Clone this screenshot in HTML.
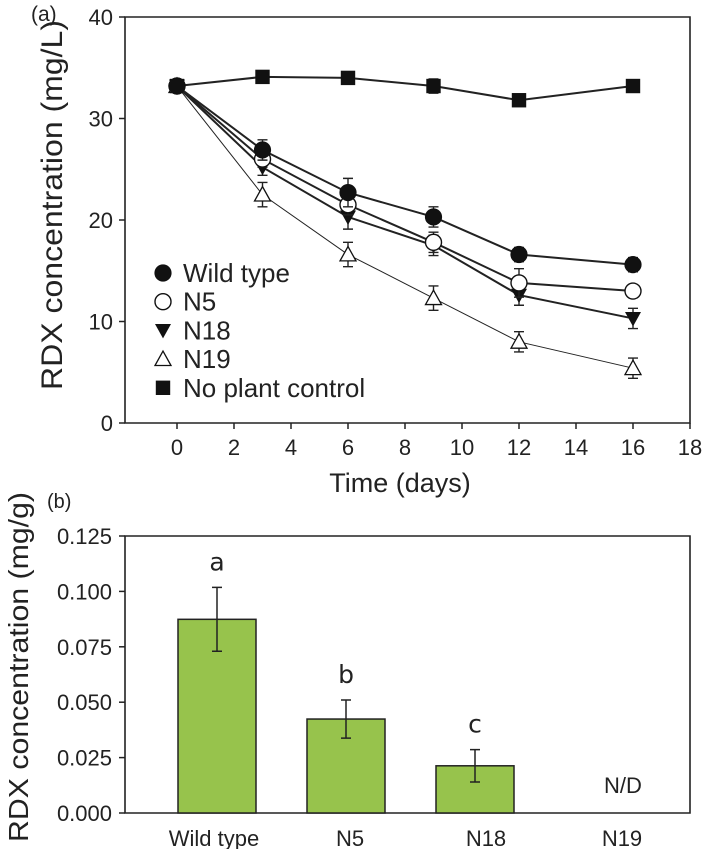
<!DOCTYPE html>
<html><head><meta charset="utf-8"><style>
html,body{margin:0;padding:0;background:#fff;}
svg{display:block;font-family:"Liberation Sans",Arial,sans-serif;}
</style></head><body>
<svg id="chart" width="709" height="849" viewBox="0 0 709 849" xmlns="http://www.w3.org/2000/svg">
<g id="pa"></g>
<g id="pb"></g>
</svg>
<script>
// ---- Panel (a) data ----
const days = [0, 3, 6, 9, 12, 16];
const wildType = [33.2, 26.9, 22.7, 20.3, 16.6, 15.6];
const wildTypeErr = [0.6, 1.0, 1.4, 1.0, 0.7, 0.7];
const n5 = [33.2, 26.0, 21.5, 17.8, 13.8, 13.0];
const n5Err = [0.5, 0.8, 1.0, 1.0, 1.4, 0.6];
const n18 = [33.2, 25.2, 20.3, 17.5, 12.6, 10.3];
const n18Err = [0.5, 0.8, 1.2, 1.0, 1.0, 1.0];
const n19 = [33.2, 22.5, 16.6, 12.3, 8.0, 5.4];
const n19Err = [0.5, 1.2, 1.2, 1.2, 1.0, 1.0];
const control = [33.2, 34.1, 34.0, 33.2, 31.8, 33.2];
const controlErr = [0.5, 0.3, 0.3, 0.7, 0.3, 0.3];
const xTicksA = [0, 2, 4, 6, 8, 10, 12, 14, 16, 18];
const yTicksA = [0, 10, 20, 30, 40];
const legendLabels = ["Wild type", "N5", "N18", "N19", "No plant control"];
// ---- Panel (b) data ----
const lines = ["Wild type", "N5", "N18", "N19"];
const barValues = [0.0874, 0.0424, 0.0213, null];
const barErr = [0.0144, 0.0086, 0.0073, null];
const barLetters = ["a", "b", "c", "N/D"];
const yTicksB = [0, 0.025, 0.05, 0.075, 0.1, 0.125];

const NS = "http://www.w3.org/2000/svg";
function mk(parent, tag, attrs, text){
  const e = document.createElementNS(NS, tag);
  for (const k in attrs) e.setAttribute(k, attrs[k]);
  if (text !== undefined) e.textContent = text;
  parent.appendChild(e);
  return e;
}

// ---- Panel A ----
const pa = document.getElementById('pa');
const AL=125, AR=690, AT=17, AB=423;
const xA = d => 177 + (d) * (690-177)/18;
const yA = v => AB - v * (AB-AT)/40;

let e;
e = mk(pa,'path',{d:`M${AL},${AT}H${AR}V${AB}H${AL}Z`,fill:'none',stroke:'#222','stroke-width':1.6});


yTicksA.forEach(t=>{
  e = mk(pa,'line',{x1:AL-6,x2:AL,y1:yA(t),y2:yA(t),stroke:'#222','stroke-width':1.5});
  
  
  e = mk(pa,'text',{x:AL-12,y:yA(t)+8,'text-anchor':'end','font-size':22,fill:'#222'},String(t));
  
  
});
xTicksA.forEach(t=>{
  e = mk(pa,'line',{x1:xA(t),x2:xA(t),y1:AB,y2:AB+6,stroke:'#222','stroke-width':1.5});
  
  
  e = mk(pa,'text',{x:xA(t),y:AB+32,'text-anchor':'middle','font-size':22,fill:'#222'},String(t));
  
  
});
e = mk(pa,'text',{x:400,y:492,'text-anchor':'middle','font-size':27,fill:'#222'},'Time (days)');


e = mk(pa,'text',{x:0,y:0,transform:'translate(62,205) rotate(-90)','text-anchor':'middle','font-size':30,fill:'#222',textLength:370,lengthAdjust:'spacingAndGlyphs'},'RDX concentration (mg/L)');


e = mk(pa,'text',{x:31,y:21,'font-size':21,fill:'#222'},'(a)');



function marker(g, type, cx, cy, s){
  let m;
  if (type==='circle') m = mk(g,'circle',{cx,cy,r:s,fill:'#111',stroke:'#111','stroke-width':1.2});
  else if (type==='ocircle') m = mk(g,'circle',{cx,cy,r:s,fill:'#fff',stroke:'#111','stroke-width':1.4});
  else if (type==='tridown') m = mk(g,'path',{d:`M${cx-s},${cy-s*0.8}H${cx+s}L${cx},${cy+s*1.0}Z`,fill:'#111'});
  else if (type==='triup') m = mk(g,'path',{d:`M${cx-s},${cy+s*0.8}H${cx+s}L${cx},${cy-s*1.0}Z`,fill:'#fff',stroke:'#111','stroke-width':1.3});
  else m = mk(g,'rect',{x:cx-s*0.9,y:cy-s*0.9,width:s*1.8,height:s*1.8,fill:'#111'});
  return m;
}
const seriesA = [
  {name:'wild-type',vals:wildType,err:wildTypeErr,m:'circle',w:2},
  {name:'n5',vals:n5,err:n5Err,m:'ocircle',w:2},
  {name:'n18',vals:n18,err:n18Err,m:'tridown',w:2},
  {name:'n19',vals:n19,err:n19Err,m:'triup',w:1},
  {name:'no-plant-control',vals:control,err:controlErr,m:'square',w:2}
];
// draw order: lines, error bars, markers
seriesA.slice().reverse().forEach(s=>{
  const g = mk(pa,'g',{});
  
  
  const pts = days.map((d,i)=>xA(d)+','+yA(s.vals[i])).join(' ');
  e = mk(g,'polyline',{points:pts,fill:'none',stroke:'#222','stroke-width':s.w});
  
  
  days.forEach((d,i)=>{
    const x=xA(d), y1=yA(s.vals[i]-s.err[i]), y2=yA(s.vals[i]+s.err[i]);
    e = mk(g,'path',{d:`M${x},${y1}V${y2}M${x-5},${y1}H${x+5}M${x-5},${y2}H${x+5}`,stroke:'#222','stroke-width':1.4,fill:'none'});
    
    
  });
  days.forEach((d,i)=>{
    e = marker(g, s.m, xA(d), yA(s.vals[i]), 8);
    
    
  });
});
// legend
const lg = mk(pa,'g',{});


const legendYs0 = 273, legendStep = 28.7;
legendLabels.forEach((lab,i)=>{
  const y = legendYs0 + i*legendStep;
  e = marker(lg, seriesA[i].m, 163, y, 8);
  
  
  e = mk(lg,'text',{x:183,y:y+9,'font-size':26,fill:'#222'},lab);
  
  
});

// ---- Panel B ----
const pb = document.getElementById('pb');
const BL=125, BR=690, BT=536, BB=813;
const yB = v => BB - v*(BB-BT)/0.125;
const barX = i => 217 + i*129;
const labX = i => 214 + i*136;
const BW = 78;
e = mk(pb,'path',{d:`M${BL},${BT}H${BR}V${BB}H${BL}Z`,fill:'none',stroke:'#222','stroke-width':1.6});


yTicksB.forEach(t=>{
  e = mk(pb,'line',{x1:BL-6,x2:BL,y1:yB(t),y2:yB(t),stroke:'#222','stroke-width':1.5});
  
  
  e = mk(pb,'text',{x:BL-13,y:yB(t)+8,'text-anchor':'end','font-size':22,fill:'#222'},t.toFixed(3));
  
  
});
lines.forEach((l,i)=>{
  e = mk(pb,'text',{x:labX(i),y:BB+33,'text-anchor':'middle','font-size':22,fill:'#222'},l);
  
  
  const v = barValues[i];
  if (v===null){
    e = mk(pb,'text',{x:labX(i)+1,y:BB-20,'text-anchor':'middle','font-size':22,fill:'#222'},barLetters[i]);
    
    
    return;
  }
  e = mk(pb,'rect',{x:barX(i)-BW/2,y:yB(v),width:BW,height:BB-yB(v),fill:'#97c34c',stroke:'#222','stroke-width':1.5});
  
  
  const x=barX(i), y1=yB(v-barErr[i]), y2=yB(v+barErr[i]);
  e = mk(pb,'path',{d:`M${x},${y1}V${y2}M${x-5},${y1}H${x+5}M${x-5},${y2}H${x+5}`,stroke:'#222','stroke-width':1.5,fill:'none'});
  
  
  e = mk(pb,'text',{x:x,y:y2-17,'text-anchor':'middle','font-size':25,fill:'#222','font-family':'"DejaVu Sans", sans-serif'},barLetters[i]);
  
  
});
e = mk(pb,'text',{x:0,y:0,transform:'translate(28,667) rotate(-90)','text-anchor':'middle','font-size':28,fill:'#222',textLength:350,lengthAdjust:'spacingAndGlyphs'},'RDX concentration (mg/g)');


e = mk(pb,'text',{x:47,y:508,'font-size':20,fill:'#222'},'(b)');


</script>
</body></html>
